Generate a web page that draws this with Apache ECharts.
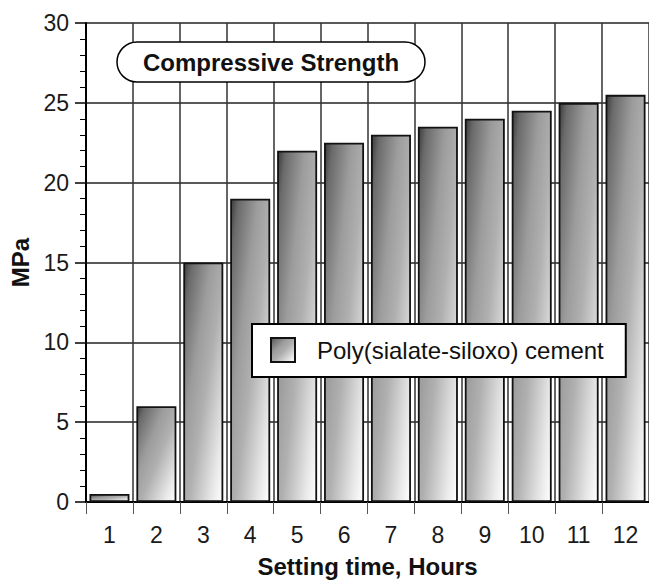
<!DOCTYPE html>
<html><head><meta charset="utf-8">
<script src="https://cdn.jsdelivr.net/npm/echarts@6/dist/echarts.min.js"></script>
<style>html,body{margin:0;padding:0;background:#fff}#c{width:649px;height:583px}</style>
</head><body><div id="c"></div>
<script>
const categories = ['1','2','3','4','5','6','7','8','9','10','11','12'];
const strength = [0.5, 6, 15, 19, 22, 22.5, 23, 23.5, 24, 24.5, 25, 25.5];
const seriesName = 'Poly(sialate-siloxo) cement';
const chartTitle = 'Compressive Strength';
const xName = 'Setting time, Hours';
const yName = 'MPa';

const FONT = '"Liberation Sans", Arial, sans-serif';
const grad = {type:'linear', x:0, y:0, x2:1, y2:1, colorStops:[
  {offset:0, color:'#3c3c3c'}, {offset:0.1, color:'#6a6a6a'}, {offset:0.35, color:'#9c9c9c'},
  {offset:0.55, color:'#b0b0b0'}, {offset:0.85, color:'#e8e8e8'}, {offset:1, color:'#ffffff'}]};

const chart = echarts.init(document.getElementById('c'), null, {renderer:'svg'});
chart.setOption({
  animation:false,
  backgroundColor:'#fff',
  title:{text:chartTitle, left:117, top:42, padding:[8,26], borderRadius:20,
    borderColor:'#000', borderWidth:1.5, backgroundColor:'#fff', z:10,
    textStyle:{fontFamily:FONT, fontSize:24, fontWeight:'bold', color:'#111'}},
  legend:{data:[seriesName], left:252, top:324, orient:'horizontal',
    padding:[13,22,14,18], backgroundColor:'#fff', borderColor:'#000', borderWidth:2,
    itemWidth:24, itemHeight:24, icon:'rect', z:10,
    textStyle:{fontFamily:FONT, fontSize:24, color:'#111', padding:[0,0,0,17]}},
  grid:{left:86, top:23, right:-13, bottom:79, containLabel:false},
  xAxis:{type:'category', data:categories, boundaryGap:true,
    name:xName, nameLocation:'middle', nameGap:52,
    nameTextStyle:{fontFamily:FONT, fontSize:24, fontWeight:'bold', color:'#111'},
    axisLine:{lineStyle:{color:'#000', width:2}},
    axisTick:{show:true, length:12, lineStyle:{color:'#555', width:1}},
    axisLabel:{fontFamily:FONT, fontSize:23, color:'#1a1a1a', margin:21},
    splitLine:{show:true, lineStyle:{color:'#333', width:1.5}}},
  yAxis:{type:'value', min:0, max:30, interval:5,
    name:yName, nameLocation:'middle', nameGap:52,
    nameTextStyle:{fontFamily:FONT, fontSize:24, fontWeight:'bold', color:'#111'},
    axisLine:{show:true, lineStyle:{color:'#000', width:2}},
    axisTick:{show:true, length:11, lineStyle:{color:'#000', width:1.5}},
    minorTick:{show:true, splitNumber:5, length:6, lineStyle:{color:'#000', width:1}},
    axisLabel:{fontFamily:FONT, fontSize:23, color:'#1a1a1a', margin:17},
    splitLine:{show:true, lineStyle:{color:'#222', width:1.5}}},
  series:[{name:seriesName, type:'bar', data:strength, barWidth:40,
    itemStyle:{color:grad, borderColor:'#111', borderWidth:1.8}}]
});
</script></body></html>
